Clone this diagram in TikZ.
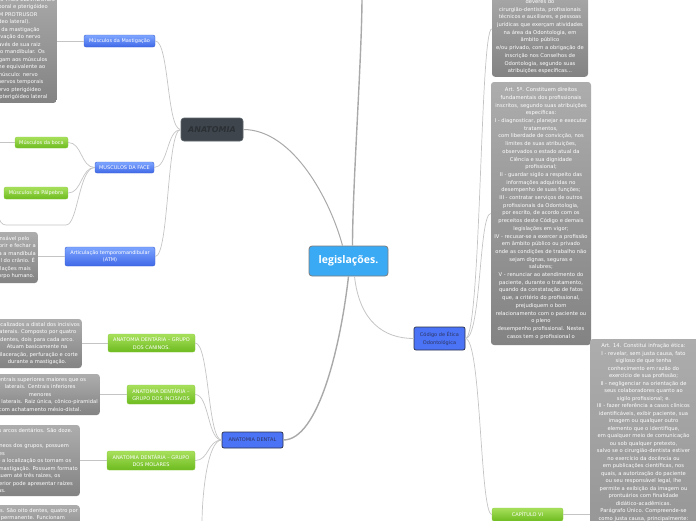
\documentclass[tikz,border=0pt]{standalone}
\usepackage{fontspec}
\setmainfont{DejaVu Sans}
\newfontfamily\titlefont{Open Sans}
\definecolor{gtop}{HTML}{ADADAD}
\definecolor{gbot}{HTML}{838383}
\definecolor{btop}{HTML}{7EA6FF}
\definecolor{bbot}{HTML}{3F68E8}
\definecolor{bborder}{HTML}{3A5FD0}
\definecolor{dblue}{HTML}{4A73F6}
\definecolor{dborder}{HTML}{2B2F45}
\definecolor{dtext}{HTML}{2E3560}
\definecolor{grtop}{HTML}{A8E05C}
\definecolor{grbot}{HTML}{6DBB1F}
\definecolor{grborder}{HTML}{8AC940}
\definecolor{lcol}{HTML}{C4C4C4}
\definecolor{mcol}{HTML}{A9A9A9}
\definecolor{legfill}{HTML}{3AAAF5}
\definecolor{legdraw}{HTML}{7D7D7D}
\definecolor{anfill}{HTML}{3E454C}
\definecolor{andraw}{HTML}{5E656B}
\definecolor{antext}{HTML}{2B3035}
\newcommand\smtxt{\fontsize{5.2pt}{7.5pt}\selectfont}
\newcommand\smtxtb{\fontsize{5.2pt}{7.7pt}\selectfont}
\newcommand\ndtxt{\fontsize{5pt}{7.5pt}\selectfont}
\begin{document}
\begin{tikzpicture}[x=1pt,y=-1pt,
  gbox/.style={draw=none, rounded corners=3pt, top color=gtop, bottom color=gbot, text=white, align=center, font=\smtxt, inner xsep=2pt, inner ysep=3pt},
  bnode/.style={rounded corners=2pt, top color=btop, bottom color=bbot, draw=bborder, line width=0.4pt, text=white, align=center, font=\ndtxt, inner sep=0pt},
  dnode/.style={rounded corners=2pt, fill=dblue, draw=dborder, line width=0.7pt, text=dtext, align=center, font=\ndtxt, inner sep=0pt},
  gnode/.style={rounded corners=2pt, top color=grtop, bottom color=grbot, draw=grborder, line width=0.3pt, text=white, align=center, font=\ndtxt, inner sep=0pt},
  conn/.style={draw=lcol, line width=0.7pt},
  mainc/.style={draw=mcol, line width=1.4pt}]
\useasboundingbox (0,0) rectangle (696,520);
\clip (0,0) rectangle (696,520);

% ---------- main nodes
\node[rounded corners=3pt, fill=legfill, draw=legdraw, line width=0.8pt, text=white,
      font=\titlefont\bfseries\fontsize{10.5pt}{12pt}\selectfont,
      minimum width=79pt, minimum height=30pt] (legis) at (348.5,261) {legislações.};
\node[rounded corners=3pt, fill=anfill, draw=andraw, line width=0.6pt, text=antext,
      font=\bfseries\itshape\fontsize{8pt}{9pt}\selectfont,
      minimum width=62pt, minimum height=23pt] (anat) at (212,129.5) {ANATOMIA};

\node[bnode, minimum width=71pt, minimum height=12pt] (mast) at (119.5,41) {Músculos da Mastigação};
\node[bnode, minimum width=59pt, minimum height=11pt] (face) at (124.5,167.5) {MUSCULOS DA FACE};
\node[gnode, minimum width=53pt, minimum height=11pt] (boca) at (41.5,142.5) {Músculos da boca};
\node[gnode, minimum width=64pt, minimum height=12pt] (palp) at (36,193) {Músculos da Pálpebra};
\node[bnode, minimum width=90pt, minimum height=19pt] (atm) at (110,256.5) {Articulação temporomandibular\\(ATM)};
\node[dnode, minimum width=61pt, minimum height=16pt] (dental) at (252.5,440) {ANATOMIA DENTAL};
\node[gnode, minimum width=87pt, minimum height=18pt] (can) at (151.5,343) {ANATOMIA DENTÁRIA – GRUPO\\DOS CANINOS.};
\node[gnode, minimum width=68pt, minimum height=19pt] (inc) at (161,394.5) {ANATOMIA DENTÁRIA –\\GRUPO DOS INCISIVOS};
\node[gnode, minimum width=88pt, minimum height=19pt] (mol) at (151,460.5) {ANATOMIA DENTÁRIA – GRUPO\\DOS MOLARES};
\node[dnode, minimum width=51pt, minimum height=23pt] (cod) at (439.5,338.5) {Código de Ética\\Odontológica};
\node[gnode, minimum width=71pt, minimum height=13pt] (cap) at (527.5,514.5) {CAPÍTULO VI};

% ---------- gray text boxes (left)
\node[gbox, anchor=south east] (g1) at (57,103) {%
São responsáveis pelos movimentos\\
Os músculos da mastigação são\\
quatro pares, sendo TRÊS ELEVADORES\\
(masseter, temporal e pterigóideo\\
medial) e UM PROTRUSOR\\
(pterigóideo lateral).\\
Os músculos da mastigação\\
recebem inervação do nervo\\
trigêmeo através de sua raiz\\
motora, o nervo mandibular. Os\\
nervos que chegam aos músculos\\
recebem o nome equivalente ao\\
respectivo músculo: nervo\\
massetérico, nervos temporais\\
profundos, nervo pterigóideo\\
medial e nervo pterigóideo lateral};

\node[gbox, anchor=east, minimum height=51pt] (g2) at (38,257.5) {%
A ATM é responsável pelo\\
movimento de abrir e fechar a\\
boca. Ela articula a mandíbula\\
ao osso temporal do crânio. É\\
uma das articulações mais\\
complexas do corpo humano.};

\node[gbox, anchor=east, minimum height=49pt] (g3) at (82,343.5) {%
Localizados a distal dos incisivos\\
laterais. Composto por quatro\\
dentes, dois para cada arco.\\
Atuam basicamente na\\
dilaceração, perfuração e corte\\
durante a mastigação.};

\node[gbox, anchor=east, minimum height=41pt] (g4) at (100,394.5) {%
Centrais superiores maiores que os\\
laterais. Centrais inferiores\\
menores\\
que os laterais. Raiz única, cônico-piramidal\\
com achatamento mésio-distal.};

\node[gbox, anchor=east, minimum height=71pt] (g5) at (80,460.5) {%
Localizados na região posterior dos arcos dentários. São doze.\\
\mbox{}\\
Os molares são os mais heterogêneos dos grupos, possuem\\
4 cúspides\\
coroas volumosas. Seu tamanho e a localização os tornam os\\
principais dentes responsáveis pela mastigação. Possuem formato\\
trapezoidal e geralmente possuem até três raízes, os\\
de modo que o primeiro molar superior pode apresentar raízes\\
fusionadas.};

\node[gbox, anchor=north east] (g6) at (80,505) {%
Localizados entre os caninos e os molares. São oito dentes, quatro por\\
arco, presentes apenas na dentição permanente. Funcionam\\
como auxiliares dos molares na trituração dos alimentos\\
durante a mastigação.};

% ---------- gray text boxes (right)
\node[gbox, anchor=south, minimum width=96pt, font=\smtxtb] (g7) at (540,77) {%
Art. 1º. Este Código regula os\\
direitos e\\
deveres do\\
cirurgião-dentista, profissionais\\
técnicos e auxiliares, e pessoas\\
jurídicas que exerçam atividades\\
na área da Odontologia, em\\
âmbito público\\
e/ou privado, com a obrigação de\\
inscrição nos Conselhos de\\
Odontologia, segundo suas\\
atribuições específicas...};

\node[gbox, minimum width=100pt, minimum height=263pt, font=\smtxtb, inner xsep=1pt] (g8) at (541,213.5) {%
Art. 5º. Constituem direitos\\
fundamentais dos profissionais\\
inscritos, segundo suas atribuições\\
específicas:\\
I - diagnosticar, planejar e executar\\
tratamentos,\\
com liberdade de convicção, nos\\
limites de suas atribuições,\\
observados o estado atual da\\
Ciência e sua dignidade\\
profissional;\\
II - guardar sigilo a respeito das\\
informações adquiridas no\\
desempenho de suas funções;\\
III - contratar serviços de outros\\
profissionais da Odontologia,\\
por escrito, de acordo com os\\
preceitos deste Código e demais\\
legislações em vigor;\\
IV - recusar-se a exercer a profissão\\
em âmbito público ou privado\\
onde as condições de trabalho não\\
sejam dignas, seguras e\\
salubres;\\
V - renunciar ao atendimento do\\
paciente, durante o tratamento,\\
quando da constatação de fatos\\
que, a critério do profissional,\\
prejudiquem o bom\\
relacionamento com o paciente ou\\
o pleno\\
desempenho profissional. Nestes\\
casos tem o profissional o};

\node[gbox, minimum width=109pt, minimum height=350pt] (g9) at (644.5,514) {};
\node[text=white, align=center, font=\smtxt, inner sep=0pt, anchor=north] (g9t) at (643.5,343.5) {%
Art. 14. Constitui infração ética:\\
I - revelar, sem justa causa, fato\\
sigiloso de que tenha\\
conhecimento em razão do\\
exercício de sua profissão;\\
II - negligenciar na orientação de\\
seus colaboradores quanto ao\\
sigilo profissional; e.\\
III - fazer referência a casos clínicos\\
identificáveis, exibir paciente, sua\\
imagem ou qualquer outro\\
elemento que o identifique,\\
em qualquer meio de comunicação\\
ou sob qualquer pretexto,\\
salvo se o cirurgião-dentista estiver\\
no exercício da docência ou\\
em publicações científicas, nos\\
quais, a autorização do paciente\\
ou seu responsável legal, lhe\\
permite a exibição da imagem ou\\
prontuários com finalidade\\
didático-acadêmicas.\\
Parágrafo Único. Compreende-se\\
como justa causa, principalmente:};

% ---------- free ends
\coordinate (upc) at (362,-4);
\coordinate (fl1) at (66,225);
\coordinate (fl2) at (6,225);
\coordinate (fl3) at (-1,216);
\coordinate (bl) at (-4,142.5);
\coordinate (db) at (202,524);

% ---------- connectors
\begin{scope}[on background layer/.style={}]
\draw[mainc, line width=1pt] (anat.east) .. controls +(50,0) and +(-12,-45) .. ([xshift=-6pt]legis.north);
\draw[mainc] ([xshift=4pt]legis.north) .. controls +(0,-60) and +(0,60) .. (upc);
\draw[mainc] (legis.south) .. controls +(-8,70) and +(35,0) .. (dental.east);
\draw[conn, line width=0.8pt] ([xshift=6pt]legis.south) .. controls +(5,45) and +(-30,0) .. (cod.west);

\draw[conn] (anat.west) .. controls +(-14,0) and +(14,0) .. (mast.east);
\draw[conn] (anat.west) .. controls +(-14,0) and +(14,0) .. (face.east);
\draw[conn] (anat.west) .. controls +(-14,0) and +(14,0) .. (atm.east);
\draw[conn] (mast.west) -- (mast.west -| g1.east);
\draw[conn] (atm.west) -- (atm.west -| g2.east);
\draw[conn] (face.west) .. controls +(-14,0) and +(14,0) .. (boca.east);
\draw[conn] (face.west) .. controls +(-14,0) and +(14,0) .. (palp.east);
\draw[conn] (face.west) .. controls +(-16,0) and +(12,0) .. (fl1) -- (fl2) .. controls +(-4,0) and +(0,5) .. (fl3);
\draw[conn] (boca.west) -- (bl);

\draw[conn] (dental.west) .. controls +(-14,0) and +(14,0) .. (can.east);
\draw[conn] (dental.west) .. controls +(-14,0) and +(14,0) .. (inc.east);
\draw[conn] (dental.west) .. controls +(-14,0) and +(14,0) .. (mol.east);
\draw[conn] (dental.west) .. controls +(-14,0) and +(0,-30) .. (db);
\draw[conn] (can.west) -- (can.west -| g3.east);
\draw[conn] (inc.west) -- (inc.west -| g4.east);
\draw[conn] (mol.west) -- (mol.west -| g5.east);

\draw[conn] (cod.east) .. controls +(16,0) and +(-12,0) .. (g7.west);
\draw[conn] (cod.east) .. controls +(16,0) and +(-12,0) .. (g8.west);
\draw[conn] (cod.east) .. controls +(16,0) and +(-12,0) .. (cap.west);
\draw[conn] (cap.east) -- (cap.east -| g9.west);
\end{scope}
\end{tikzpicture}
\end{document}
